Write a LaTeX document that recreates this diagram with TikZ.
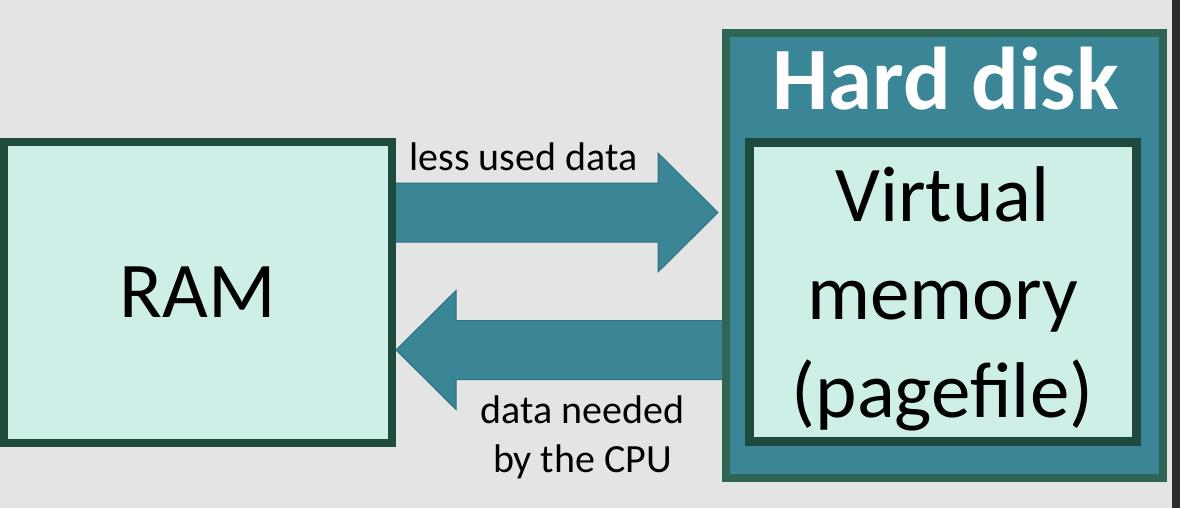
\documentclass[tikz,border=0pt]{standalone}
\usepackage{fontspec}
\setmainfont{Carlito}
\usetikzlibrary{calc}
\definecolor{bggrey}{HTML}{E4E4E4}
\definecolor{ramedge}{HTML}{1F4A3E}
\definecolor{diskedge}{HTML}{2E6555}
\definecolor{diskfill}{HTML}{3B8696}
\definecolor{boxfill}{HTML}{CEEFE7}
\definecolor{arrowedge}{HTML}{2F7282}
\definecolor{barcol}{HTML}{2B2B2B}
\tikzset{
  membox/.style={draw=ramedge, line width=8pt, fill=boxfill, inner sep=0pt},
  diskbox/.style={draw=diskedge, line width=8pt, fill=diskfill, inner sep=0pt},
  blockarrow/.style={fill=diskfill, draw=arrowedge, line width=1pt},
  biglabel/.style={font=\fontsize{79}{98}\selectfont, align=center},
  smalllabel/.style={font=\fontsize{40}{49}\selectfont, align=center},
}
\begin{document}
\begin{tikzpicture}[x=1pt,y=-1pt]
                % background and bounding box
                \fill[bggrey] (0,0) rectangle (1180,508);
                \useasboundingbox (0,0) rectangle (1180,508);
                \fill[barcol] (1172,0) rectangle (1180,508);

                % Drawing box RAM
                \node[membox, biglabel, minimum width=388pt, minimum height=301pt] (ram) at (198,292.5) {RAM};

                % Drawing box Hard disk
                \node[diskbox, minimum width=437pt, minimum height=445pt] (hd) at (944.5,255.5) {};
                \node[anchor=base, text=white, font=\fontsize{89}{110}\selectfont\bfseries] (hdtitle) at (946,110) {Hard disk};

                % Drawing box Virtual memory
                \node[membox, line width=9pt, minimum width=387pt, minimum height=299pt] (vm) at (943,292) {};
                \node[biglabel, anchor=base] (vmtext) at (942.5,417) {Virtual\\memory\\(pagefile)};

                % Drawing arrow RAM -> Hard disk
                \coordinate (outtail) at (ram.east |- 0,212.5);
                \coordinate (outtip) at ($(hd.west |- 0,212.5)+(-4,0)$);
                \draw[blockarrow] ($(outtail)+(0,-29.5)$) -- ($(outtip)+(-60,-29.5)$) -- ($(outtip)+(-60,-59.5)$) -- (outtip) -- ($(outtip)+(-60,59.5)$) -- ($(outtip)+(-60,29.5)$) -- ($(outtail)+(0,29.5)$);%

                % Drawing arrow Hard disk -> RAM
                \coordinate (intail) at (hd.west |- 0,350);
                \coordinate (intip) at (ram.east |- 0,350);
                \draw[blockarrow] ($(intail)+(0,-29.5)$) -- ($(intip)+(60,-29.5)$) -- ($(intip)+(60,-59.5)$) -- (intip) -- ($(intip)+(60,59.5)$) -- ($(intip)+(60,29.5)$) -- ($(intail)+(0,29.5)$);%

                % Marking arrow labels
                \node[smalllabel, anchor=base] (outlabel) at (523.5,170) {less used data};
                \node[smalllabel, anchor=base] (inlabel) at (582.5,472) {data needed\\by the CPU};
\end{tikzpicture}
\end{document}
